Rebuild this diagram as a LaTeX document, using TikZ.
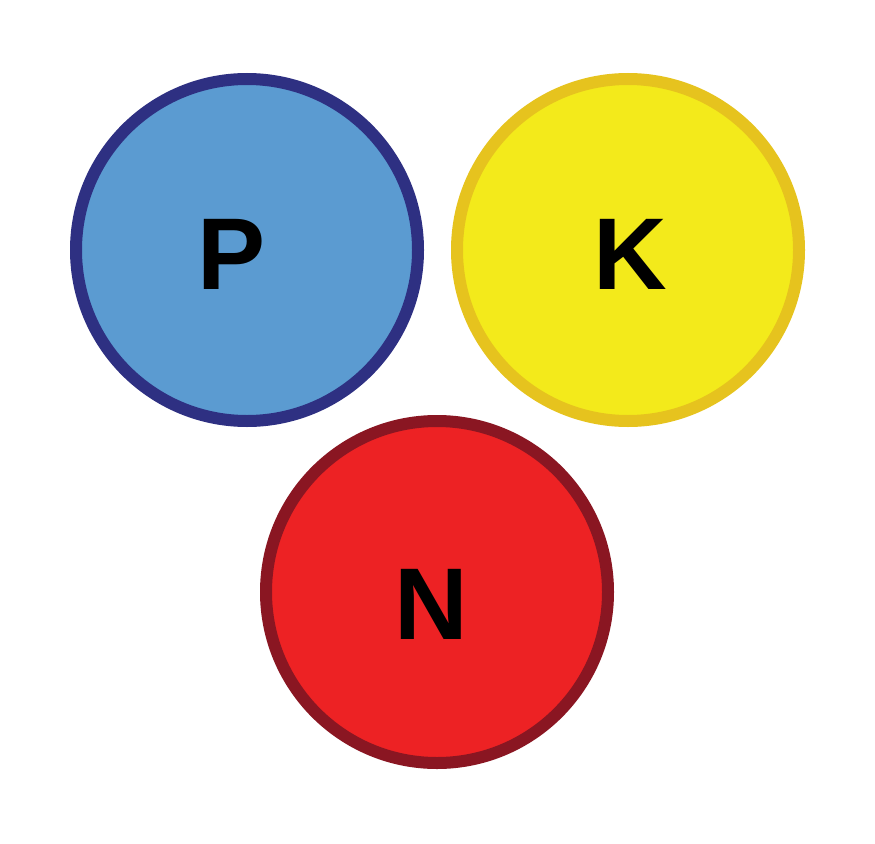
\documentclass[tikz,border=0pt]{standalone}
\usepackage{fontspec}
\setmainfont{Liberation Sans}
\definecolor{pfill}{HTML}{5B9BD1}
\definecolor{pline}{HTML}{2E3082}
\definecolor{kfill}{HTML}{F3EA1B}
\definecolor{kline}{HTML}{E6C31E}
\definecolor{nfill}{HTML}{ED2224}
\definecolor{nline}{HTML}{8A1622}
\begin{document}
\begin{tikzpicture}[x=1pt,y=-1pt,
  disc/.style={circle,line width=12pt,minimum size=342pt,inner sep=0pt},
  letter/.style={anchor=base,inner sep=0pt,font=\fontsize{102}{102}\selectfont\bfseries}]
\useasboundingbox (0,0) rectangle (875,843);
\node[disc,draw=pline,fill=pfill] (p) at (247,250) {};
\node[disc,draw=kline,fill=kfill] (k) at (628,250) {};
\node[disc,draw=nline,fill=nfill] (n) at (437,592) {};
\node[letter] (pl) at (232,289) {P};
\node[letter] (kl) at (630,289) {K};
\node[letter] (nl) at (431,639) {N};
\end{tikzpicture}
\end{document}
